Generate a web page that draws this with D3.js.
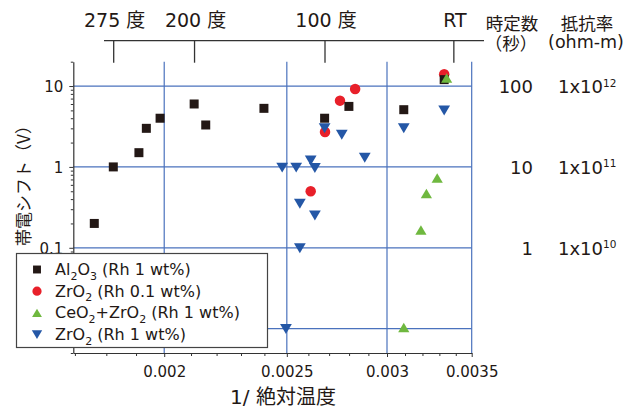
<!DOCTYPE html>
<html><head><meta charset="utf-8">
<script src="https://cdn.jsdelivr.net/npm/d3@7"></script>
<style>
html,body{margin:0;padding:0;background:#fff;}
svg{display:block;}
</style></head>
<body>
<svg id="chart" width="637" height="409"></svg>
<script>
// ---------- DATA ----------
const seriesNames = ["Al_2O_3 (Rh 1 wt%)", "ZrO_2 (Rh 0.1 wt%)", "CeO_2+ZrO_2 (Rh 1 wt%)", "ZrO_2 (Rh 1 wt%)"];
const al2o3X = [0.001761,0.001823,0.00191,0.001936,0.001985,0.002112,0.002157,0.002398,0.002678,0.002799,0.003093,0.003329];
const al2o3Y = [0.2,1.0,1.5,3.0,4.0,6.0,3.3,5.3,4.0,5.6,5.1,12];
const zrLowX = [0.002611,0.00268,0.002754,0.002831,0.003329];
const zrLowY = [0.5,2.7,6.6,9.2,14];
const ceZrX = [0.003093,0.003191,0.003223,0.003287,0.003344];
const ceZrY = [0.0103,0.166,0.47,0.73,12.6];
const zrX = [0.002479,0.002496,0.002543,0.00256,0.00256,0.002611,0.002631,0.002631,0.002678,0.002763,0.002881,0.003093,0.003329];
const zrY = [0.98,0.0099,0.98,0.35,0.099,1.2,0.97,0.25,3.0,2.5,1.3,3.0,5.0];

const xTickValues = [0.002, 0.0025, 0.003, 0.0035];
const xTickLabels = ["0.002", "0.0025", "0.003", "0.0035"];
const yGridValues = [10, 1, 0.1, 0.01];
const yLabelValues = [10, 1, 0.1];
const yTickLabels = ["10", "1", "0.1"];
const topTempsC = [275, 200, 100, 22];
const topLabels = ["275 度", "200 度", "100 度", "RT"];
const rightAt = [10, 1, 0.1];
const timeConst = ["100", "10", "1"];
const resistExp = ["12", "11", "10"];

// ---------- SETUP ----------
const svg = d3.select("#chart");
const latin = "'DejaVu Sans','Noto Sans CJK JP',sans-serif";
const cjk = "'Noto Sans CJK JP',sans-serif";
const ink = "#231815";
const gridCol = "#4a72bd";
const colors = ["#231815", "#e8202a", "#6fb83f", "#2457a6"];

const L = 73.3, R = 471.7, T = 61.7, B = 353;
const x = d3.scaleLog().domain([0.001695, 0.0035]).range([L, R]);
const y = d3.scaleLog().domain([0.005, 20]).range([B, T]);

// symbols (size = width in px)
const symSquare = {draw(c, s){ const h = s/2; c.rect(-h,-h,s,s); }};
const symCircle = {draw(c, s){ const r = s/2; c.moveTo(r,0); c.arc(0,0,r,0,2*Math.PI); }};
const symUp = {draw(c, s){ const w = s*1.12, h = s*0.95; c.moveTo(0,-h/2); c.lineTo(w/2,h/2); c.lineTo(-w/2,h/2); c.closePath(); }};
const symDown = {draw(c, s){ const w = s*1.12, h = s*0.95; c.moveTo(0,h/2); c.lineTo(w/2,-h/2); c.lineTo(-w/2,-h/2); c.closePath(); }};
const symTypes = [symSquare, symCircle, symUp, symDown];
const symSizes = [9, 10.5, 10, 10.5];

// ---------- GRID ----------
svg.append("g").selectAll("line").data(xTickValues).join("line")
  .attr("x1", d => x(d)).attr("x2", d => x(d)).attr("y1", T).attr("y2", B)
  .attr("stroke", gridCol).attr("stroke-width", 1.2);
svg.append("g").selectAll("line").data(yGridValues).join("line")
  .attr("x1", L).attr("x2", R).attr("y1", d => y(d)).attr("y2", d => y(d))
  .attr("stroke", gridCol).attr("stroke-width", 1.2);

// ---------- LEFT AXIS ----------
const minorY = y.ticks().filter(v => !yGridValues.some(m => Math.abs(m - v) / m < 1e-6));
const gyMinor = svg.append("g").attr("transform", `translate(${L},0)`)
  .call(d3.axisLeft(y).tickValues(minorY).tickSize(2.5).tickFormat(""));
gyMinor.select(".domain").remove();
gyMinor.selectAll("line").attr("stroke", "#333");
const gy0 = svg.append("g").attr("transform", `translate(${L},0)`)
  .call(d3.axisLeft(y).tickValues([0.01]).tickSize(4).tickFormat(""));
gy0.select(".domain").remove();
gy0.selectAll("line").attr("stroke", "#333");
const gy = svg.append("g").attr("transform", `translate(${L},0)`)
  .call(d3.axisLeft(y).tickValues(yLabelValues).tickSize(4).tickPadding(6)
    .tickFormat((d, i) => yTickLabels[i]).tickSizeOuter(0));
gy.select(".domain").attr("stroke", "#333").attr("stroke-width", 1.2);
gy.selectAll("line").attr("stroke", "#333");
gy.selectAll("text").attr("font-family", latin).attr("font-size", 15).attr("fill", ink)
  .attr("dy", "0.36em");

// ---------- BOTTOM AXIS ----------
const minorX = d3.range(17, 35).map(k => k / 10000).filter(v => !xTickValues.some(m => Math.abs(m - v) < 1e-9));
const gxMinor = svg.append("g").attr("transform", `translate(0,${B})`)
  .call(d3.axisBottom(x).tickValues(minorX).tickSize(3).tickFormat(""));
gxMinor.select(".domain").remove();
gxMinor.selectAll("line").attr("stroke", "#333");
const gx = svg.append("g").attr("transform", `translate(0,${B})`)
  .call(d3.axisBottom(x).tickValues(xTickValues).tickSize(4).tickSizeOuter(0)
    .tickFormat((d, i) => xTickLabels[i]));
gx.select(".domain").attr("stroke", "#333").attr("stroke-width", 1.2);
gx.selectAll("line").attr("stroke", "#333");
gx.selectAll("text").attr("font-family", latin).attr("font-size", 15).attr("fill", ink)
  .attr("y", 24).attr("dy", 0);

// ---------- TOP (temperature) AXIS ----------
const topY = 40.7;
svg.append("line").attr("x1", 104).attr("x2", 484).attr("y1", topY).attr("y2", topY)
  .attr("stroke", "#333").attr("stroke-width", 1.3);
const topG = svg.append("g");
topG.selectAll("line").data(topTempsC).join("line")
  .attr("x1", d => x(1 / (d + 273.15))).attr("x2", d => x(1 / (d + 273.15)))
  .attr("y1", topY).attr("y2", 62.7).attr("stroke", "#333").attr("stroke-width", 1.3);
topG.selectAll("text").data(topTempsC).join("text")
  .attr("x", d => x(1 / (d + 273.15)) + 1).attr("y", 27)
  .attr("text-anchor", "middle").attr("font-family", latin).attr("font-size", 19).attr("fill", ink)
  .text((d, i) => topLabels[i]);

// ---------- RIGHT HEADERS & VALUES ----------
svg.append("text").attr("x", 512).attr("y", 30).attr("text-anchor", "middle")
  .attr("font-family", cjk).attr("font-size", 17.5).attr("fill", ink).text("時定数");
svg.append("text").attr("x", 511).attr("y", 49.5).attr("text-anchor", "middle")
  .attr("font-family", cjk).attr("font-size", 17.5).attr("fill", ink).text("（秒）");
svg.append("text").attr("x", 587).attr("y", 30).attr("text-anchor", "middle")
  .attr("font-family", cjk).attr("font-size", 17.5).attr("fill", ink).text("抵抗率");
svg.append("text").attr("x", 586).attr("y", 48).attr("text-anchor", "middle")
  .attr("font-family", latin).attr("font-size", 17.5).attr("fill", ink).text("(ohm-m)");

const rg = svg.append("g");
rg.selectAll("text.tc").data(rightAt).join("text").attr("class", "tc")
  .attr("x", 533).attr("y", d => y(d) + 7).attr("text-anchor", "end")
  .attr("font-family", latin).attr("font-size", 18).attr("fill", ink)
  .text((d, i) => timeConst[i]);
const rs = rg.selectAll("text.rs").data(rightAt).join("text").attr("class", "rs")
  .attr("x", 558).attr("y", d => y(d) + 7)
  .attr("font-family", latin).attr("font-size", 18).attr("fill", ink);
rs.append("tspan").attr("font-size", 18).text("1x10");
rs.append("tspan").attr("font-size", 10.5).attr("dy", -6.5).text((d, i) => resistExp[i]);

// ---------- AXIS TITLES ----------
svg.append("text").attr("transform", "translate(22.5,181.5) rotate(-90)")
  .attr("text-anchor", "middle").attr("dominant-baseline", "central")
  .attr("font-family", cjk).attr("font-size", 17).attr("fill", ink).text("帯電シフト（V）");
svg.append("text").attr("x", 283).attr("y", 404).attr("text-anchor", "middle")
  .attr("font-family", latin).attr("font-size", 20).attr("fill", ink).text("1/ 絶対温度");

// ---------- POINTS ----------
const allSeries = [
  {xs: zrLowX, ys: zrLowY, k: 1},
  {xs: al2o3X, ys: al2o3Y, k: 0},
  {xs: ceZrX, ys: ceZrY, k: 2},
  {xs: zrX, ys: zrY, k: 3}
];
allSeries.forEach(s => {
  svg.append("g").selectAll("path").data(s.xs.map((v, i) => [v, s.ys[i]])).join("path")
    .attr("transform", d => `translate(${x(d[0])},${y(d[1])})`)
    .attr("d", d3.symbol(symTypes[s.k], symSizes[s.k]))
    .attr("fill", colors[s.k]);
});

// ---------- LEGEND ----------
const lg = svg.append("g");
lg.append("rect").attr("x", 16.5).attr("y", 253.5).attr("width", 251).attr("height", 94)
  .attr("fill", "#fff").attr("stroke", "#444").attr("stroke-width", 1.2);
seriesNames.forEach((name, i) => {
  const base = 275 + i * 21.7;
  lg.append("path").attr("transform", `translate(37,${base - 5.5})`)
    .attr("d", d3.symbol(symTypes[i], symSizes[i] * 0.88)).attr("fill", colors[i]);
  const t = lg.append("text").attr("x", 55).attr("y", base)
    .attr("font-family", latin).attr("font-size", 16).attr("fill", ink);
  const parts = name.split(/(_\d)/).filter(p => p.length);
  let shifted = false;
  parts.forEach(p => {
    if (p.startsWith("_")) {
      t.append("tspan").attr("font-size", 11).attr("dy", 4.5).text(p.slice(1));
      shifted = true;
    } else {
      t.append("tspan").attr("font-size", 16).attr("dy", shifted ? -4.5 : 0).text(p);
      shifted = false;
    }
  });
});
</script>
</body></html>
